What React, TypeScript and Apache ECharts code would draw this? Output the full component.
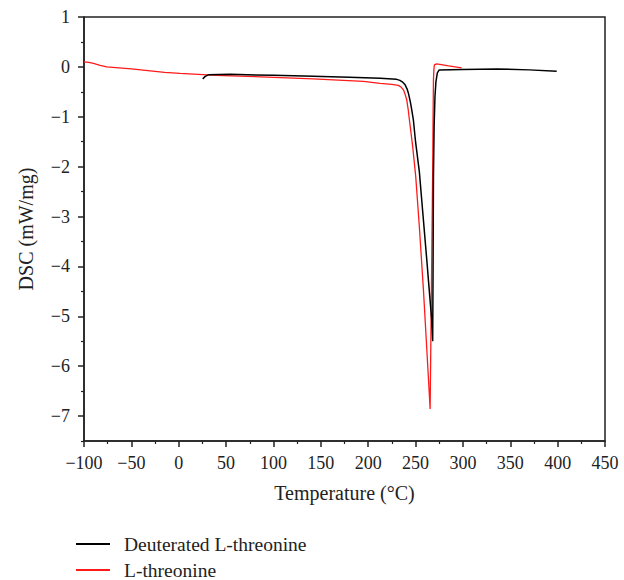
import React, { useEffect, useRef } from "react";
import * as echarts from "echarts";

// Deuterated L-threonine: [temperature °C, DSC mW/mg]
const deuteratedData: [number, number][] = [
  [25.3, -0.24], [28, -0.19], [31.3, -0.16], [54, -0.15], [100, -0.17], [142, -0.19],
  [180, -0.21], [212.6, -0.23], [230, -0.25], [233.5, -0.27], [236, -0.3], [239, -0.36],
  [241, -0.44], [242.5, -0.53], [244.5, -0.7], [246, -0.86], [247.7, -1.06], [250, -1.5],
  [254, -2.1], [258, -3.0], [262, -3.9], [265, -4.6], [267, -5.06], [268.1, -5.5],
  [268.5, -4.0], [268.9, -2.2], [269.6, -1.2], [270.5, -0.6], [271.5, -0.3], [273, -0.12],
  [275, -0.06], [300, -0.05], [335.8, -0.04], [370, -0.06], [399, -0.09],
];

// L-threonine: [temperature °C, DSC mW/mg]
const threonineData: [number, number][] = [
  [-100, 0.1], [-95, 0.09], [-90, 0.07], [-83, 0.03], [-76, 0.0], [-50, -0.04],
  [-15, -0.11], [1.4, -0.13], [40, -0.17], [71.8, -0.19], [142, -0.24], [195, -0.29],
  [212.6, -0.33], [225, -0.35], [231.9, -0.37], [235, -0.41], [237.2, -0.46],
  [239, -0.55], [240.7, -0.66], [242.2, -0.85], [243.5, -1.06], [247, -1.6],
  [250.2, -2.2], [254, -3.2], [258.3, -4.46], [262, -5.7], [265.4, -6.86],
  [266.4, -5.06], [268.1, -2.06], [268.5, -1.06], [268.9, -0.26], [269.4, -0.05],
  [269.9, 0.04], [272.3, 0.06], [285, 0.02], [298.7, -0.02],
];

const seriesNames = ["Deuterated L-threonine", "L-threonine"];
const seriesColors = ["#000000", "#ff1a1a"];

const yMajorTicks = [-7, -6, -5, -4, -3, -2, -1, 0, 1];
const yMinorTicks = [-7.5, -6.5, -5.5, -4.5, -3.5, -2.5, -1.5, -0.5, 0.5];

const FONT = "Liberation Serif";

const fmt = (v: number) => (v < 0 ? "\u2212" + Math.abs(v) : String(v));

export default function App() {
  const ref = useRef<HTMLDivElement>(null);
  useEffect(() => {
    if (!ref.current) return;
    const chart = echarts.init(ref.current, null, { renderer: "svg" });
    const axisLine = { show: true, onZero: false, lineStyle: { color: "#222", width: 1.5 } };
    chart.setOption({
      animation: false,
      backgroundColor: "#fff",
      textStyle: { fontFamily: FONT },
      grid: {
        left: 84,
        right: 19,
        top: 17,
        bottom: 139,
        show: true,
        borderColor: "#222",
        borderWidth: 1.5,
        backgroundColor: "transparent",
      },
      legend: {
        orient: "vertical",
        left: 76,
        top: 534,
        height: 80,
        padding: 0,
        itemWidth: 34,
        itemHeight: 2,
        itemGap: 6,
        itemStyle: { borderWidth: 0 },
        icon: "rect",
        textStyle: {
          fontFamily: FONT,
          fontSize: 19.5,
          lineHeight: 18,
          color: "#222",
          padding: [0, 0, 0, 9],
        },
        data: seriesNames,
      },
      xAxis: {
        type: "value",
        min: -100,
        max: 450,
        interval: 50,
        name: "Temperature (\u00b0C)",
        nameLocation: "middle",
        nameGap: 42,
        nameTextStyle: { fontFamily: FONT, fontSize: 20, color: "#222" },
        axisLine,
        axisTick: { show: true, inside: false, length: 6, lineStyle: { color: "#222", width: 1.5 } },
        minorTick: { show: true, splitNumber: 2, length: 3, lineStyle: { color: "#222", width: 1.2 } },
        axisLabel: { fontFamily: FONT, fontSize: 18, color: "#222", margin: 13, formatter: fmt },
        splitLine: { show: false },
      },
      yAxis: [
        {
          type: "value",
          min: -7.5,
          max: 1,
          name: "DSC (mW/mg)",
          nameLocation: "middle",
          nameGap: 48,
          nameTextStyle: { fontFamily: FONT, fontSize: 20, color: "#222" },
          axisLine,
          axisTick: {
            show: true,
            inside: false,
            length: 6,
            customValues: yMajorTicks,
            lineStyle: { color: "#222", width: 1.5 },
          },
          axisLabel: {
            fontFamily: FONT,
            fontSize: 18,
            color: "#222",
            margin: 14,
            customValues: yMajorTicks,
            formatter: fmt,
          },
          splitLine: { show: false },
        },
        {
          type: "value",
          min: -7.5,
          max: 1,
          position: "left",
          axisLine: { show: false, onZero: false },
          axisTick: {
            show: true,
            inside: false,
            length: 3,
            customValues: yMinorTicks,
            lineStyle: { color: "#222", width: 1.2 },
          },
          axisLabel: { show: false },
          splitLine: { show: false },
        },
      ],
      series: [
        {
          name: seriesNames[0],
          type: "line",
          data: deuteratedData,
          showSymbol: false,
          symbol: "none",
          lineStyle: { color: seriesColors[0], width: 1.5 },
          itemStyle: { color: seriesColors[0] },
          z: 3,
        },
        {
          name: seriesNames[1],
          type: "line",
          data: threonineData,
          showSymbol: false,
          symbol: "none",
          lineStyle: { color: seriesColors[1], width: 1.3 },
          itemStyle: { color: seriesColors[1] },
          z: 2,
        },
      ],
    });
    return () => chart.dispose();
  }, []);
  return <div ref={ref} style={{ width: 624, height: 580, position: "absolute", left: 0, top: 0 }} />;
}
